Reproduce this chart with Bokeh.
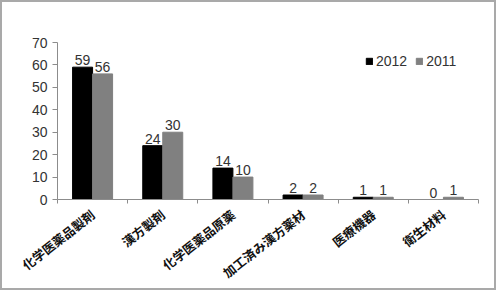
import math
from bokeh.plotting import figure
from bokeh.models import ColumnDataSource, FixedTicker, Legend, LegendItem, LabelSet, Range1d
from bokeh.core.properties import value
from bokeh.embed import file_html
from bokeh.resources import INLINE

categories = ["化学医薬品製剤", "漢方製剤", "化学医薬品原薬", "加工済み漢方薬材", "医療機器", "衛生材料"]
series_names = ["2012", "2011"]
values_2012 = [59, 24, 14, 2, 1, 0]
values_2011 = [56, 30, 10, 2, 1, 1]
colors = ["#000000", "#808080"]

centers = [i + 0.5 for i in range(len(categories))]
bw = 0.285
x12 = [c - bw / 2 for c in centers]
x11 = [c + bw / 2 for c in centers]

src12 = ColumnDataSource(dict(x=x12, top=values_2012, lab=[str(v) for v in values_2012]))
src11 = ColumnDataSource(dict(x=x11, top=values_2011, lab=[str(v) for v in values_2011]))

p = figure(width=496, height=290, output_backend="svg", toolbar_location=None,
           x_range=Range1d(0, len(categories)), y_range=Range1d(0, 70),
           min_border_left=55, min_border_right=20, min_border_top=40, min_border_bottom=92)
p.styles = {"border": "2px solid #a9a9a9"}
p.outline_line_color = None
p.grid.visible = False
p.background_fill_color = "white"

r12 = p.vbar(x="x", top="top", width=bw, source=src12, color=colors[0])
r11 = p.vbar(x="x", top="top", width=bw, source=src11, color=colors[1])

for src in (src12, src11):
    p.add_layout(LabelSet(x="x", y="top", text="lab", source=src, text_align="center",
                          text_baseline="bottom", y_offset=2, text_font_size="14px",
                          text_color="#333333", text_font=value("Liberation Sans")))

# y axis
p.yaxis.ticker = FixedTicker(ticks=list(range(0, 71, 10)))
p.yaxis.axis_line_color = "#8c8c8c"
p.yaxis.major_tick_line_color = "#8c8c8c"
p.yaxis.major_tick_in = 0
p.yaxis.major_tick_out = 5
p.yaxis.minor_tick_line_color = None
p.yaxis.major_label_text_font = "Liberation Sans"
p.yaxis.major_label_text_font_size = "14px"
p.yaxis.major_label_text_color = "#333333"
p.yaxis.major_label_standoff = 5

# x axis
p.xaxis.ticker = FixedTicker(ticks=centers, minor_ticks=list(range(len(categories) + 1)))
p.xaxis.major_label_overrides = {c: name for c, name in zip(centers, categories)}
p.xaxis.axis_line_color = "#8c8c8c"
p.xaxis.major_tick_line_color = None
p.xaxis.minor_tick_line_color = "#8c8c8c"
p.xaxis.minor_tick_in = 0
p.xaxis.minor_tick_out = 4
p.xaxis.major_label_orientation = math.radians(38)
p.xaxis.major_label_text_font = "Noto Sans CJK JP"
p.xaxis.major_label_text_font_size = "12.5px"
p.xaxis.major_label_text_font_style = "bold"
p.xaxis.major_label_text_color = "#111111"
p.xaxis.major_label_standoff = 7

legend = Legend(items=[LegendItem(label=series_names[0], renderers=[r12]),
                       LegendItem(label=series_names[1], renderers=[r11])],
                orientation="horizontal", location=(308, 130),
                glyph_width=8, glyph_height=8, label_text_font_size="14px",
                label_text_font="Liberation Sans", label_text_color="#333333",
                label_standoff=3, spacing=8, padding=0, margin=0,
                border_line_color=None, background_fill_alpha=0)
p.add_layout(legend)

open("out.html", "w").write(file_html(p, INLINE))
